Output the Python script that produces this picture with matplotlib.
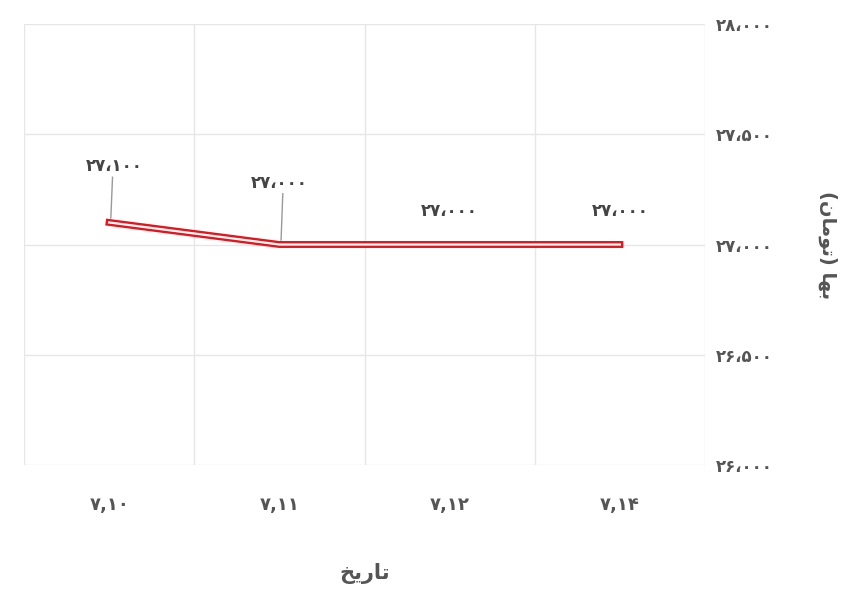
import matplotlib
matplotlib.use("Agg")
import matplotlib.pyplot as plt

plt.rcParams['font.family'] = ['DejaVu Sans']

# ── Data ──────────────────────────────────────────────────────────────────────
dates  = ["۷,۱۰", "۷,۱۱", "۷,۱۲", "۷,۱۴"]
prices = [27100, 27000, 27000, 27000]
labels = ["۲۷،۱۰۰", "۲۷،۰۰۰", "۲۷،۰۰۰", "۲۷،۰۰۰"]
yticks = [26000, 26500, 27000, 27500, 28000]
ytick_labels = ["۲۶،۰۰۰", "۲۶،۵۰۰", "۲۷،۰۰۰", "۲۷،۵۰۰", "۲۸،۰۰۰"]
# visual-order presentation forms
xlabel = "\uFEA6\uFBFE\uFEAD\uFE8E\uFE97"                       # تاریخ
ylabel = "(\uFEE5\uFE8E\uFEE3\uFEEE\uFE97) \uFE8E\uFEEC\uFE91"  # بها (تومان)

fig = plt.figure(figsize=(8.6, 5.96), dpi=100)
ax = fig.add_axes([24/860, 1-465/596, 681/860, 441/596])

x = list(range(len(dates)))
ax.plot(x, prices, color="#e8131b", lw=5, solid_joinstyle="miter")
ax.plot(x, prices, color="white", lw=1.6, solid_joinstyle="miter")

ax.set_xlim(-0.5, 3.5)
ax.set_ylim(26000, 28000)
ax.set_xticks([-0.5, 0.5, 1.5, 2.5, 3.5], minor=False)
ax.set_xticklabels([])
ax.set_xticks(x, minor=True)
ax.set_xticklabels(dates, minor=True, fontsize=13, fontweight="bold", color="#555555")
ax.tick_params(axis="x", which="both", length=0, pad=22)
ax.yaxis.tick_right()
ax.set_yticks(yticks)
ax.set_yticklabels(ytick_labels, fontsize=12, fontweight="bold", color="#555555")
ax.tick_params(axis="y", length=0, pad=8)
ax.grid(True, color="#e6e6e6", lw=1)
for s in ax.spines.values():
    s.set_visible(False)

offsets = [(0.03, 215), (0.0, 240), (0.0, 111), (0.0, 111)]
for i, (xi, yi) in enumerate(zip(x, prices)):
    dx, dy = offsets[i]
    ax.text(xi + dx, yi + dy, labels[i], ha="center", va="bottom",
            fontsize=12, fontweight="bold", color="#444444")
    if i < 2:
        ax.plot([xi + 0.02, xi + 0.01], [yi + dy - 10, yi + 20], color="#999999", lw=1)

fig.text(365/860, 1-573/596, xlabel, ha="center", va="center",
         fontsize=15, fontweight="bold", color="#555555")
fig.text(828/860, 1-245/596, ylabel, ha="center", va="center", rotation=270,
         fontsize=14, fontweight="bold", color="#555555")

fig.savefig("out.png", dpi=100)
